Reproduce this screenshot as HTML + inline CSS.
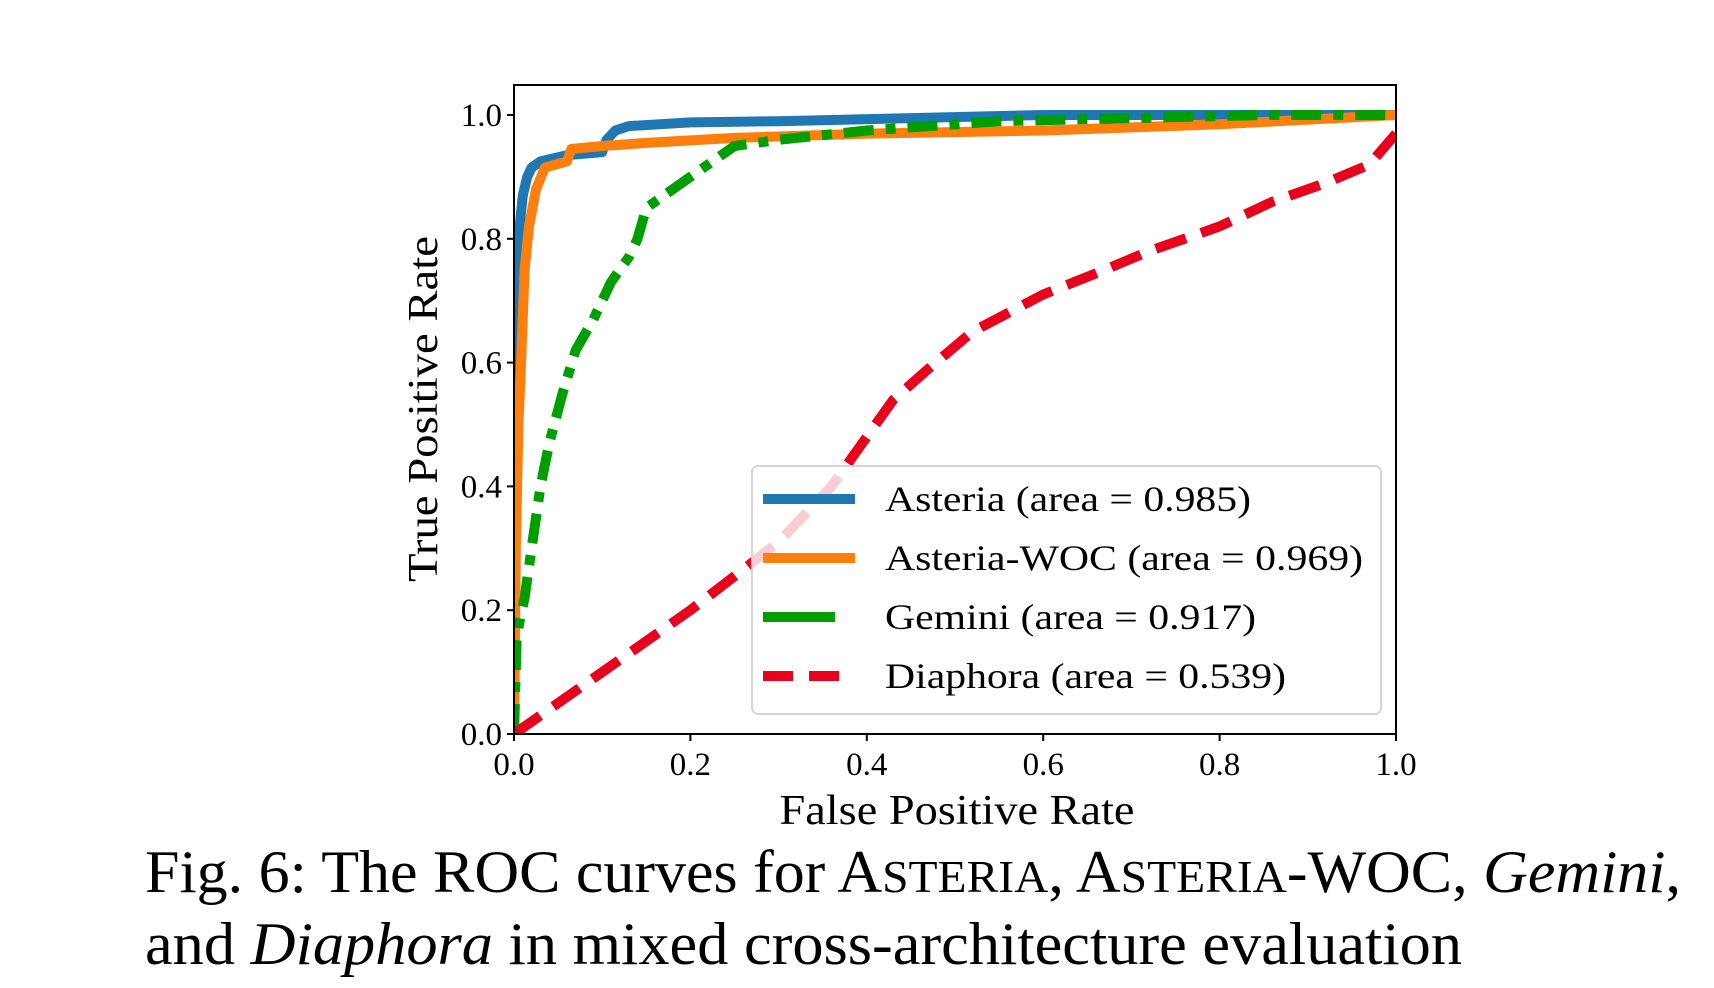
<!DOCTYPE html>
<html><head><meta charset="utf-8"><style>
html,body{margin:0;padding:0;background:#fff;}
svg{display:block;font-family:"Liberation Serif","Times New Roman",serif;}
</style></head><body>
<svg id="chart" width="1714" height="988" viewBox="0 0 1714 988" xmlns="http://www.w3.org/2000/svg">
<defs><clipPath id="clip"><rect x="514" y="85" width="882" height="649"/></clipPath></defs>
<g id="curves" clip-path="url(#clip)"></g>
<rect x="514" y="85" width="882" height="649" fill="none" stroke="#000" stroke-width="2"/>
<g id="ticks"></g>
<text x="957" y="824" font-size="42" text-anchor="middle" textLength="355" lengthAdjust="spacingAndGlyphs">False Positive Rate</text>
<text transform="translate(437,409) rotate(-90)" font-size="42" text-anchor="middle" textLength="346" lengthAdjust="spacingAndGlyphs">True Positive Rate</text>
<g>
<rect x="752" y="466" width="629" height="248" rx="6" fill="#fff" fill-opacity="0.8" stroke="#d6d6d6" stroke-width="2"/>
<g id="legend-items"></g>
</g>
<g font-size="60">
<text x="145" y="892" textLength="1536" lengthAdjust="spacingAndGlyphs">Fig. 6: The ROC curves for A<tspan font-size="46">STERIA</tspan>, A<tspan font-size="46">STERIA</tspan>-WOC, <tspan font-style="italic">Gemini</tspan>,</text>
<text x="145" y="964" textLength="1317" lengthAdjust="spacingAndGlyphs">and <tspan font-style="italic">Diaphora</tspan> in mixed cross-architecture evaluation</text>
</g>
</svg>
<script>
const xTicks=[0,0.2,0.4,0.6,0.8,1.0];
const yTicks=[0,0.2,0.4,0.6,0.8,1.0];
const tickLabels=["0.0","0.2","0.4","0.6","0.8","1.0"];
const seriesNames=["Asteria (area = 0.985)","Asteria-WOC (area = 0.969)","Gemini (area = 0.917)","Diaphora (area = 0.539)"];
const asteriaFpr=[0,0,0.002,0.005,0.01,0.015,0.02,0.03,0.06,0.1,0.105,0.115,0.13,0.2,0.3,0.45,0.6,0.8,1];
const asteriaTpr=[0,0.6,0.72,0.8,0.87,0.9,0.915,0.925,0.935,0.94,0.96,0.975,0.982,0.988,0.99,0.995,1,1,1];
const wocFpr=[0,0.002,0.005,0.008,0.012,0.017,0.025,0.035,0.06,0.065,0.1,0.15,0.25,0.4,0.6,0.8,1];
const wocTpr=[0,0.3,0.5,0.6,0.75,0.82,0.88,0.915,0.925,0.945,0.95,0.955,0.963,0.97,0.975,0.985,1];
const geminiFpr=[0,0.003,0.006,0.012,0.02,0.03,0.04,0.055,0.07,0.09,0.11,0.13,0.14,0.15,0.17,0.2,0.23,0.25,0.3,0.4,0.55,0.7,0.85,1];
const geminiTpr=[0,0.15,0.18,0.22,0.3,0.4,0.47,0.55,0.62,0.67,0.73,0.77,0.8,0.85,0.87,0.9,0.93,0.95,0.96,0.975,0.99,0.995,1,1];
const diaphoraFpr=[0,0.1,0.2,0.3,0.36,0.4,0.43,0.47,0.52,0.6,0.67,0.72,0.8,0.86,0.92,0.97,1];
const diaphoraTpr=[0,0.1,0.2,0.31,0.4,0.48,0.54,0.59,0.65,0.71,0.75,0.78,0.82,0.86,0.89,0.92,0.97];
const colors=["#1f77b4","#ff7f0e","#009e00","#e8001c"];
const dashes=["","","30 12 10 12","32 16"];
const X0=514,X1=1396,Y0=734,Y1=115;
function sx(v){return X0+(X1-X0)*v;}
function sy(v){return Y0-(Y0-Y1)*v;}
const NS="http://www.w3.org/2000/svg";
const cg=document.getElementById('curves');
const all=[[asteriaFpr,asteriaTpr],[wocFpr,wocTpr],[geminiFpr,geminiTpr],[diaphoraFpr,diaphoraTpr]];
const cnames=['asteria-curve','asteria-woc-curve','gemini-curve','diaphora-curve'];
all.forEach((s,i)=>{
  const p=document.createElementNS(NS,'path');
  p.setAttribute('d',s[0].map((x,j)=>(j?'L':'M')+sx(x).toFixed(1)+' '+sy(s[1][j]).toFixed(1)).join(' '));
  p.setAttribute('fill','none');p.setAttribute('stroke',colors[i]);p.setAttribute('stroke-width','10');
  p.setAttribute('stroke-linejoin','round');
  if(dashes[i])p.setAttribute('stroke-dasharray',dashes[i]);
  
  
  cg.appendChild(p);
});
const tg=document.getElementById('ticks');
xTicks.forEach((v,i)=>{
  const l=document.createElementNS(NS,'line');
  l.setAttribute('x1',sx(v));l.setAttribute('x2',sx(v));l.setAttribute('y1',Y0);l.setAttribute('y2',Y0+7);l.setAttribute('stroke','#000');l.setAttribute('stroke-width','2');
  
  
  tg.appendChild(l);
  const t=document.createElementNS(NS,'text');
  t.setAttribute('x',sx(v));t.setAttribute('y',Y0+41);t.setAttribute('font-size','33');t.setAttribute('text-anchor','middle');
  t.textContent=tickLabels[i];
  
  
  tg.appendChild(t);
});
yTicks.forEach((v,i)=>{
  const l=document.createElementNS(NS,'line');
  l.setAttribute('x1',X0-7);l.setAttribute('x2',X0);l.setAttribute('y1',sy(v));l.setAttribute('y2',sy(v));l.setAttribute('stroke','#000');l.setAttribute('stroke-width','2');
  
  
  tg.appendChild(l);
  const t=document.createElementNS(NS,'text');
  t.setAttribute('x',X0-12);t.setAttribute('y',sy(v)+11);t.setAttribute('font-size','33');t.setAttribute('text-anchor','end');
  t.textContent=tickLabels[i];
  
  
  tg.appendChild(t);
});
const lg=document.getElementById('legend-items');
const lw=[366,478,371,401];
seriesNames.forEach((n,i)=>{
  const by=[511,570,629,688][i];
  const l=document.createElementNS(NS,'line');
  l.setAttribute('x1',763);l.setAttribute('x2',855);l.setAttribute('y1',by-12);l.setAttribute('y2',by-12);
  l.setAttribute('stroke',colors[i]);l.setAttribute('stroke-width','10');
  if(dashes[i])l.setAttribute('stroke-dasharray',i==2?'72 30':'30 16');
  
  
  lg.appendChild(l);
  const t=document.createElementNS(NS,'text');
  t.setAttribute('x',885);t.setAttribute('y',by);t.setAttribute('font-size','36');
  t.setAttribute('textLength',lw[i]);t.setAttribute('lengthAdjust','spacingAndGlyphs');
  t.textContent=n;
  
  
  lg.appendChild(t);
});
</script>
</body></html>
